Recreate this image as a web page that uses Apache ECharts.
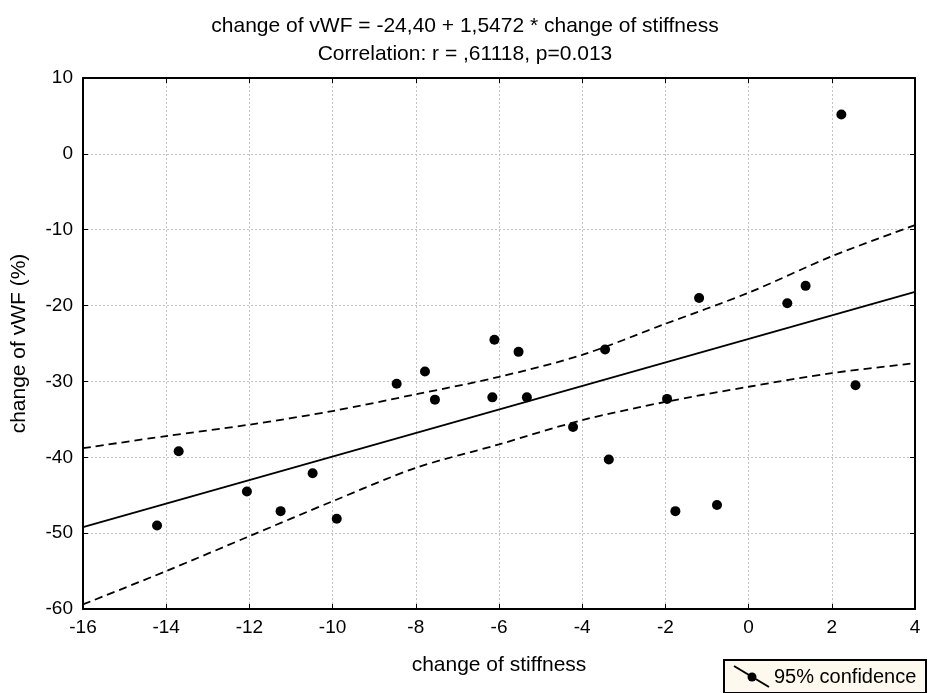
<!DOCTYPE html>
<html>
<head>
<meta charset="utf-8">
<script src="https://cdn.jsdelivr.net/npm/echarts@6/dist/echarts.min.js"></script>
<style>
  html, body { margin: 0; padding: 0; background: #fff; }
  #chart { width: 930px; height: 693px; }
</style>
</head>
<body>
<div id="chart"></div>
<script>
// measured points (change of stiffness, change of vWF %)
var stiffness = [-14.22, -13.70, -12.06, -11.25, -10.48, -9.90, -8.46, -7.78, -7.54, -6.16, -6.11, -5.53,
                 -5.33, -4.22, -3.45, -3.36, -1.96, -1.76, -1.19, -0.76, 0.93, 1.37, 2.23, 2.57];
var vwf = [-49.0, -39.2, -44.5, -47.1, -42.1, -48.1, -30.3, -28.7, -32.4, -32.1, -24.5, -26.1,
           -32.1, -36.0, -25.8, -40.3, -32.3, -47.1, -19.0, -46.3, -19.7, -17.4, 5.2, -30.5];

// fitted line ends
var fitX = [-16, 4];
var fitY = [-49.2, -18.2];

// 95% confidence band
var bandX = [-16, -14, -12, -10, -8, -6, -4, -2, 0, 2, 4];
var upperY = [-38.8, -37.2, -35.7, -33.9, -31.7, -29.4, -26.5, -22.4, -18.3, -13.5, -9.4];
var lowerY = [-59.4, -55.0, -50.4, -45.8, -41.4, -38.3, -35.1, -32.7, -30.7, -28.9, -27.6];

var xTicks = [-16, -14, -12, -10, -8, -6, -4, -2, 0, 2, 4];
var yTicks = [-60, -50, -40, -30, -20, -10, 0, 10];

function pairs(a, b) {
  var out = [];
  for (var i = 0; i < a.length; i++) out.push([a[i], b[i]]);
  return out;
}

var font = 'Liberation Sans, Arial, sans-serif';
var chart = echarts.init(document.getElementById('chart'));

var gridLine = { show: true, lineStyle: { color: '#c4c4c4', type: [2, 2], width: 1 } };
var tick = { show: true, inside: true, length: 5, lineStyle: { color: '#000', width: 1 } };
var frame = { show: true, onZero: false, lineStyle: { color: '#000', width: 2 } };

chart.setOption({
  backgroundColor: '#fff',
  animation: false,
  title: {
    left: 'center',
    top: 11,
    text: 'change of vWF = -24,40 + 1,5472 * change of stiffness',
    subtext: 'Correlation: r = ,61118, p=0.013',
    itemGap: 7,
    textStyle: { fontFamily: font, fontSize: 21, fontWeight: 'normal', color: '#000' },
    subtextStyle: { fontFamily: font, fontSize: 21, color: '#000' }
  },
  grid: { left: 83, right: 15, top: 78, bottom: 84 },
  xAxis: [{
    type: 'value', min: xTicks[0], max: xTicks[xTicks.length - 1], interval: 2,
    name: 'change of stiffness', nameLocation: 'middle', nameGap: 46,
    nameTextStyle: { fontFamily: font, fontSize: 21, color: '#000' },
    axisLine: frame,
    axisTick: tick,
    axisLabel: { fontFamily: font, fontSize: 19, color: '#000', margin: 9 },
    splitLine: gridLine
  }, {
    type: 'value', position: 'top', min: xTicks[0], max: xTicks[xTicks.length - 1], interval: 2,
    axisLine: frame, axisTick: tick, axisLabel: { show: false }, splitLine: { show: false }
  }],
  yAxis: [{
    type: 'value', min: yTicks[0], max: yTicks[yTicks.length - 1], interval: 10,
    name: 'change of vWF (%)', nameLocation: 'middle', nameGap: 53,
    nameTextStyle: { fontFamily: font, fontSize: 21, color: '#000' },
    axisLine: frame,
    axisTick: tick,
    axisLabel: { fontFamily: font, fontSize: 19, color: '#000', margin: 10 },
    splitLine: gridLine
  }, {
    type: 'value', position: 'right', min: yTicks[0], max: yTicks[yTicks.length - 1], interval: 10,
    axisLine: frame, axisTick: tick, axisLabel: { show: false }, splitLine: { show: false }
  }],
  series: [{
    name: 'upper 95%',
    type: 'line',
    data: pairs(bandX, upperY),
    smooth: 0.3,
    showSymbol: false,
    lineStyle: { color: '#000', width: 1.8, type: [8, 5] },
    z: 3
  }, {
    name: 'lower 95%',
    type: 'line',
    data: pairs(bandX, lowerY),
    smooth: 0.3,
    showSymbol: false,
    lineStyle: { color: '#000', width: 1.8, type: [8, 5] },
    z: 3
  }, {
    name: 'fit',
    type: 'line',
    data: pairs(fitX, fitY),
    showSymbol: false,
    lineStyle: { color: '#000', width: 1.8 },
    z: 4
  }, {
    name: 'data',
    type: 'scatter',
    data: pairs(stiffness, vwf),
    symbol: 'circle',
    symbolSize: 10,
    itemStyle: { color: '#000', opacity: 1 },
    z: 5
  }],
  graphic: [{
    type: 'group',
    left: 723,
    top: 659,
    children: [{
      type: 'rect',
      shape: { x: 0, y: 0, width: 202, height: 33 },
      style: { fill: '#fdf9ee', stroke: '#000', lineWidth: 2 }
    }, {
      type: 'line',
      shape: { x1: 10, y1: 6, x2: 45, y2: 27 },
      style: { stroke: '#000', lineWidth: 2 }
    }, {
      type: 'circle',
      shape: { cx: 28, cy: 17, r: 4.5 },
      style: { fill: '#000' }
    }, {
      type: 'text',
      style: {
        x: 50, y: 17, text: '95% confidence',
        font: '20px ' + font, fill: '#000', verticalAlign: 'middle'
      }
    }]
  }]
});
</script>
</body>
</html>
